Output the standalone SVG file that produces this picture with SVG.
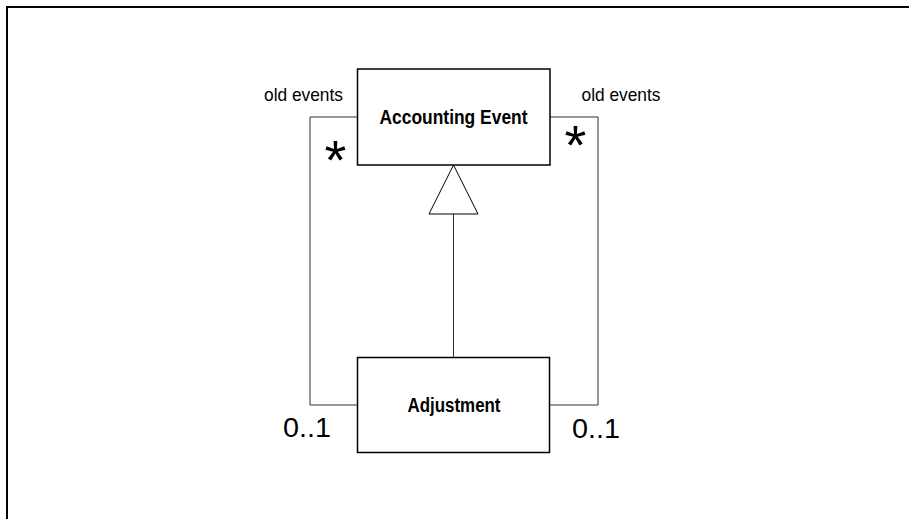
<svg xmlns="http://www.w3.org/2000/svg" width="909" height="519" viewBox="0 0 909 519">
<style>
.box{fill:#fff;stroke:#000;stroke-width:1.5}
.ln{fill:none;stroke:#333;stroke-width:1}
.t{font-family:"Liberation Sans",Arial,sans-serif;fill:#000}
.b{font-weight:bold;font-size:19.5px}
.s{font-size:19px}
.m{font-size:27px}
.a{font-size:56px}
</style>
<rect width="909" height="519" fill="#fff"/>
<path d="M7,519 V7 H909" fill="none" stroke="#000" stroke-width="2"/>
<g id="connectors">
<path class="ln" d="M357,117 H310 V405 H357"/>
<path class="ln" d="M550,117 H598 V405 H550"/>
<path class="ln" d="M453.5,214 V357"/>
<polygon points="453.5,165 429,214 478,214" fill="#fff" stroke="#000" stroke-width="1"/>
<text class="t s" x="264" y="100.5" textLength="79" lengthAdjust="spacingAndGlyphs">old events</text>
<text class="t s" x="581.5" y="100.5" textLength="79" lengthAdjust="spacingAndGlyphs">old events</text>
<text class="t a" x="324.5" y="179">*</text>
<text class="t a" x="564.5" y="164">*</text>
<text class="t m" x="283" y="437" textLength="48" lengthAdjust="spacingAndGlyphs">0..1</text>
<text class="t m" x="572" y="438" textLength="48" lengthAdjust="spacingAndGlyphs">0..1</text>
</g>
<g id="accounting-event">
<rect class="box" x="357.5" y="69" width="192.5" height="96"/>
<text class="t b" x="453.5" y="123.5" text-anchor="middle" textLength="148" lengthAdjust="spacingAndGlyphs">Accounting Event</text>
</g>
<g id="adjustment">
<rect class="box" x="357.5" y="357.5" width="192" height="95"/>
<text class="t b" x="454" y="412" text-anchor="middle" textLength="93" lengthAdjust="spacingAndGlyphs">Adjustment</text>
</g>
</svg>
